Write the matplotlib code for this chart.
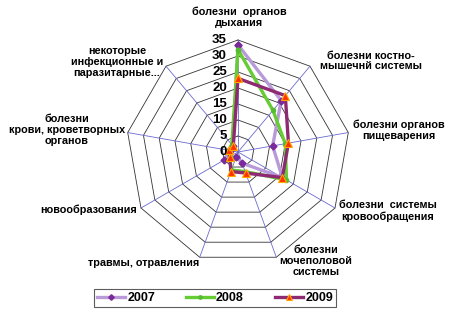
import numpy as np
import matplotlib
matplotlib.use("Agg")
import matplotlib.pyplot as plt

categories = [
    "болезни  органов\nдыхания",
    "болезни костно-\nмышечнй системы",
    "болезни органов\nпищеварения",
    "болезни  системы\nкровообращения",
    "болезни\nмочеполовой\nсистемы",
    "травмы, отравления",
    "новообразования",
    "болезни\nкрови, кроветворных\nорганов",
    "некоторые\nинфекционные и\nпаразитарные...",
]
series_names = ["2007", "2008", "2009"]
v2007 = [33.5, 21, 11, 16, 3.7, 1.5, 5, 2.5, 2.5]
v2008 = [32, 17, 15, 17.5, 6.5, 6, 3, 3, 3]
v2009 = [23, 23, 16, 16, 7, 6.5, 3, 3, 2.3]
r_ticks = [0, 5, 10, 15, 20, 25, 30, 35]

plt.rcParams['font.family'] = ['Liberation Sans', 'DejaVu Sans']

W, H = 454, 313
fig = plt.figure(figsize=(W / 100, H / 100), dpi=100)
cx, cy, R = 238, 152, 112
ax = fig.add_axes([(cx - R) / W, (H - cy - R) / H, 2 * R / W, 2 * R / H], projection='polar')
ax.set_theta_zero_location('N')
ax.set_theta_direction(-1)
ax.set_ylim(0, 35)
ax.grid(False)
ax.spines['polar'].set_visible(False)
ax.set_xticks([])
ax.set_yticks([])
ax.patch.set_alpha(0)

n = len(categories)
theta = np.arange(n) * 2 * np.pi / n
theta_c = np.append(theta, theta[0])

# polygon grid
for rv in r_ticks[1:]:
    ax.plot(theta_c, [rv] * (n + 1), color='#333333', lw=0.6, zorder=1, clip_on=False)
for t in theta:
    ax.plot([t, t], [0, 35], color='#6a6acf', lw=0.6, zorder=1, clip_on=False)

def closed(v):
    return list(v) + [v[0]]

ax.plot(theta_c, closed(v2007), color='#b89ad8', lw=2.4, marker='D', ms=3.5,
        mfc='#7a2a9a', mec='#7a2a9a', zorder=3, clip_on=False, label=series_names[0])
ax.plot(theta_c, closed(v2008), color='#66cc33', lw=2.4, marker='o', ms=3,
        mfc='#55bb33', mec='#55bb33', zorder=4, clip_on=False, label=series_names[1])
ax.plot(theta_c, closed(v2009), color='#8e2a72', lw=2.4, marker='^', ms=6,
        mfc='#ff3300', mec='#ffaa00', mew=0.8, zorder=5, clip_on=False, label=series_names[2])

# radial tick labels
for rv in r_ticks:
    yp = cy - rv * R / 35
    fig.text(227 / W, 1 - yp / H, str(rv), ha='right', va='center',
             fontsize=9.5, fontweight='bold')

# category labels (pixel placement)
lab_pos = [
    (239, 17, 'center'),
    (320, 61, 'left'),
    (353, 130, 'left'),
    (339, 211, 'left'),
    (316, 261, 'center'),
    (199, 263, 'right'),
    (137, 210, 'right'),
    (67, 130, 'center'),
    (117, 62, 'center'),
]
for lab, (x, y, ha) in zip(categories, lab_pos):
    fig.text(x / W, 1 - y / H, lab, ha=ha, va='center', fontsize=7.8,
             fontweight='bold', linespacing=1.1, multialignment='center')

leg = fig.legend(loc='center', bbox_to_anchor=(215 / W, 1 - 298 / H), ncol=3,
                 frameon=True, fancybox=False, edgecolor='#333333',
                 prop={'weight': 'bold', 'size': 9}, handlelength=2.2,
                 columnspacing=2.5, handletextpad=0.2, borderpad=0.25,
                 borderaxespad=0, markerscale=0.8)
leg.get_frame().set_linewidth(0.8)

fig.savefig('out.png', dpi=100, facecolor='white')
